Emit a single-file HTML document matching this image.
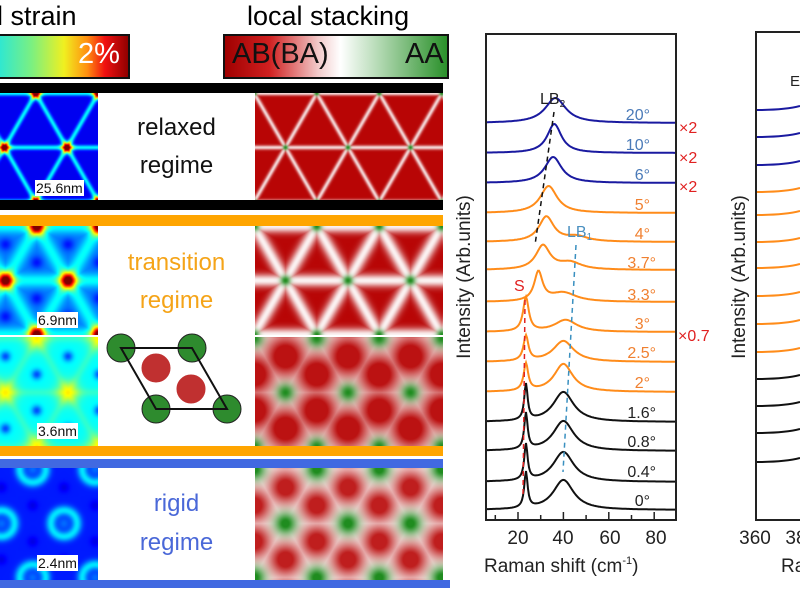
<!DOCTYPE html>
<html><head><meta charset="utf-8"><style>
html,body{margin:0;padding:0;background:#fff;}
#w{position:relative;width:800px;height:600px;overflow:hidden;font-family:"Liberation Sans",sans-serif;}
canvas{position:absolute;}
.t{position:absolute;white-space:nowrap;}
.bar{position:absolute;}
.sc{position:absolute;background:#fff;font-size:14px;line-height:16px;padding:0 1px;color:#111;}
</style></head><body><div id="w">
<div class="t" style="left:-3px;top:1px;font-size:27px;">l strain</div>
<div class="t" style="left:247px;top:1px;font-size:27px;">local stacking</div>
<div class="bar" style="left:-2px;top:34px;width:128px;height:41px;border:2px solid #111;background:linear-gradient(90deg,#30e8d0 0%,#7cf080 25%,#f0f020 50%,#ff9010 68%,#f01010 82%,#900000 100%);"></div>
<div class="t" style="left:78px;top:38px;font-size:29px;color:#fff;">2%</div>
<div class="bar" style="left:223px;top:34px;width:222px;height:41px;border:2px solid #111;background:linear-gradient(90deg,#a00000 0%,#d02020 20%,#f2caca 42%,#ffffff 52%,#b0d8b0 70%,#2a902a 100%);"></div>
<div class="t" style="left:232px;top:38px;font-size:29px;color:#111;">AB(BA)</div>
<div class="t" style="left:405px;top:38px;font-size:29px;color:#111;">AA</div>

<div class="bar" style="left:0;top:83px;width:443px;height:10px;background:#000;"></div>
<div class="bar" style="left:0;top:200px;width:443px;height:10px;background:#000;"></div>
<div class="bar" style="left:0;top:215px;width:443px;height:11px;background:#ffa500;"></div>
<div class="bar" style="left:0;top:446px;width:443px;height:10px;background:#ffa500;"></div>
<div class="bar" style="left:0;top:459px;width:443px;height:9px;background:#4169e1;"></div>
<div class="bar" style="left:0;top:580px;width:450px;height:8px;background:#4169e1;"></div>

<canvas id="s1" width="98" height="107" style="left:0;top:93px"></canvas>
<canvas id="k1" width="188" height="107" style="left:255px;top:93px"></canvas>
<canvas id="s2" width="98" height="110" style="left:0;top:226px"></canvas>
<canvas id="k2" width="188" height="110" style="left:255px;top:226px"></canvas>
<canvas id="s3" width="98" height="109" style="left:0;top:337px"></canvas>
<canvas id="k3" width="188" height="109" style="left:255px;top:337px"></canvas>
<canvas id="s4" width="98" height="112" style="left:0;top:468px"></canvas>
<canvas id="k4" width="188" height="112" style="left:255px;top:468px"></canvas>
<div class="bar" style="left:0;top:335px;width:443px;height:2px;background:#fff;"></div>

<div class="sc" style="left:35px;top:180px;">25.6nm</div>
<div class="sc" style="left:37px;top:312px;">6.9nm</div>
<div class="sc" style="left:37px;top:423px;">3.6nm</div>
<div class="sc" style="left:37px;top:555px;">2.4nm</div>

<div class="t" style="left:98px;top:114px;width:157px;text-align:center;font-size:24px;color:#111;">relaxed</div>
<div class="t" style="left:98px;top:152px;width:157px;text-align:center;font-size:24px;color:#111;">regime</div>
<div class="t" style="left:98px;top:249px;width:157px;text-align:center;font-size:24px;color:#f5a418;">transition</div>
<div class="t" style="left:98px;top:287px;width:157px;text-align:center;font-size:24px;color:#f5a418;">regime</div>
<div class="t" style="left:98px;top:490px;width:157px;text-align:center;font-size:24px;color:#4a68d8;">rigid</div>
<div class="t" style="left:98px;top:529px;width:157px;text-align:center;font-size:24px;color:#4a68d8;">regime</div>

<svg style="position:absolute;left:0;top:0" width="800" height="600">
 <g stroke="#222" stroke-width="1">
  <circle cx="121" cy="348" r="14" fill="#2e8b2e"/>
  <circle cx="192" cy="348" r="14" fill="#2e8b2e"/>
  <circle cx="156" cy="409" r="14" fill="#2e8b2e"/>
  <circle cx="227" cy="409" r="14" fill="#2e8b2e"/>
  <circle cx="156" cy="368" r="14" fill="#c03030" stroke="#c03030"/>
  <circle cx="191" cy="389" r="14" fill="#c03030" stroke="#c03030"/>
 </g>
 <polygon points="121,348 192,348 227,409 156,409" fill="none" stroke="#111" stroke-width="2"/>

 <rect x="486" y="34" width="190" height="486" fill="none" stroke="#222" stroke-width="2"/>
 <g id="spec"></g>
 <g stroke="#222" stroke-width="1.5" id="ticks"></g>
 <line x1="554" y1="112" x2="535" y2="245" stroke="#111" stroke-width="1.5" stroke-dasharray="5,4"/>
 <line x1="576" y1="245" x2="563" y2="472" stroke="#3a90c0" stroke-width="1.5" stroke-dasharray="5,4"/>
 <line x1="525" y1="300" x2="523" y2="498" stroke="#e02020" stroke-width="1.5" stroke-dasharray="5,4"/>
 <g font-family="Liberation Sans,sans-serif" font-size="16">
  <text x="540" y="104" fill="#222">LB<tspan font-size="10" dy="3">2</tspan></text>
  <text x="567" y="237" fill="#4a90c0">LB<tspan font-size="10" dy="3">1</tspan></text>
  <text x="514" y="291" fill="#e02020">S</text>
  <g text-anchor="end">
   <text x="650" y="120" fill="#4a7ab8">20°</text>
   <text x="650" y="150" fill="#4a7ab8">10°</text>
   <text x="650" y="180" fill="#4a7ab8">6°</text>
   <text x="650" y="210" fill="#f08030">5°</text>
   <text x="650" y="239" fill="#f08030">4°</text>
   <text x="656" y="268" fill="#f08030">3.7°</text>
   <text x="656" y="300" fill="#f08030">3.3°</text>
   <text x="650" y="329" fill="#f08030">3°</text>
   <text x="656" y="358" fill="#f08030">2.5°</text>
   <text x="650" y="388" fill="#f08030">2°</text>
   <text x="656" y="418" fill="#222">1.6°</text>
   <text x="656" y="447" fill="#222">0.8°</text>
   <text x="656" y="477" fill="#222">0.4°</text>
   <text x="650" y="506" fill="#222">0°</text>
  </g>
  <text x="679" y="133" fill="#e02020">×2</text>
  <text x="679" y="163" fill="#e02020">×2</text>
  <text x="679" y="192" fill="#e02020">×2</text>
  <text x="678" y="341" fill="#e02020">×0.7</text>
  <g font-size="19" fill="#222" text-anchor="middle">
   <text x="518" y="544">20</text><text x="563" y="544">40</text><text x="610" y="544">60</text><text x="656" y="544">80</text>
   <text x="755" y="544">360</text><text x="796" y="544">38</text>
  </g>
  <text x="484" y="572" font-size="19" fill="#222">Raman shift (cm<tspan font-size="11" dy="-8">-1</tspan><tspan dy="8">)</tspan></text>
  <text x="781" y="572" font-size="19" fill="#222">Ram</text>
  <text transform="translate(470,277) rotate(-90)" text-anchor="middle" font-size="19" fill="#222">Intensity (Arb.units)</text>
  <text transform="translate(745,277) rotate(-90)" text-anchor="middle" font-size="19" fill="#222">Intensity (Arb.units)</text>
  <text x="790" y="86" font-size="15" fill="#222">E</text>
 </g>
 <rect x="756" y="32" width="60" height="488" fill="none" stroke="#222" stroke-width="2"/>
 <g id="rl"></g>
</svg>
</div>
<script>
(function(){
var NS="http://www.w3.org/2000/svg";
var A=62.5,HH=A*Math.sqrt(3)/2;
function near(x,y,x0,y0){
 var jr=Math.round((y-y0)/HH),best=1e9;
 for(var j=jr-1;j<=jr+1;j++){var off=(((j%2)+2)%2)?A/2:0;
  var ir=Math.round((x-x0-off)/A);
  for(var i=ir-1;i<=ir+1;i++){var dx=x-(x0+off+i*A),dy=y-(y0+j*HH);var d=Math.sqrt(dx*dx+dy*dy);if(d<best)best=d;}}
 return best;
}
function lat(x,y,x0,y0){
 var h=HH,best=near(x,y,x0,y0);
 var px=x-x0,py=y-y0,dE=1e9;
 var ns=[[0,1],[-Math.sin(Math.PI/3),Math.cos(Math.PI/3)],[Math.sin(Math.PI/3),Math.cos(Math.PI/3)]];
 for(var k=0;k<3;k++){var p=px*ns[k][0]+py*ns[k][1];var m=((p%h)+h)%h;var dd=Math.min(m,h-m);if(dd<dE)dE=dd;}
 var dc=Math.min(near(x,y,x0+A/2,y0+h/3),near(x,y,x0+A,y0+2*h/3));
 return [best,dE,h,dc];
}
function cl(v){return v<0?0:v>1?1:v;}
function jet(v){v=cl(v);return [cl(1.5-Math.abs(4*v-3)),cl(1.5-Math.abs(4*v-2)),cl(1.5-Math.abs(4*v-1))];}
function draw(id,x0,y0,fn,ox,oy){
 var c=document.getElementById(id),g=c.getContext("2d"),W=c.width,H=c.height,im=g.createImageData(W,H);
 for(var y=0;y<H;y++)for(var x=0;x<W;x++){var L=lat(x+ox,y+oy,x0,y0);var col=fn(L[0],L[1],L[2],L[3]);
  var o=(y*W+x)*4;im.data[o]=col[0]*255;im.data[o+1]=col[1]*255;im.data[o+2]=col[2]*255;im.data[o+3]=255;}
 g.putImageData(im,0,0);
}
function E(x){return Math.exp(-x*x);}
function stack(r,gr){var R=[0.72,0.02,0.02],G=[0.12,0.55,0.12];
 var c=[1+(R[0]-1)*r,1+(R[1]-1)*r,1+(R[2]-1)*r];
 return [c[0]+(G[0]-c[0])*gr,c[1]+(G[1]-c[1])*gr,c[2]+(G[2]-c[2])*gr];}
draw("s1",4,147,function(d,e,h,c){return jet(0.11+0.26*E(e/2.5)+0.8*E(d/5));},0,93);
draw("s2",5,280,function(d,e,h,c){return jet(0.24+0.14*E(e/7)-0.1*E(c/6)+0.75*E(d/8));},0,226);
draw("s3",5,392,function(d,e,h,c){return jet(0.38+0.22*E(d/11)-0.18*E(c/5)+0.04*E(e/4));},0,337);
draw("s4",1,523,function(d,e,h,c){return jet(0.15+0.2*E((d-13)/5)+0.08*E(d/6)-0.05*E(c/5));},0,468);
draw("k1",285,147,function(d,e,h,c){return stack(1-0.85*E(e/2.2),E(d/2.5));},255,93);
draw("k2",285,280,function(d,e,h,c){return stack(1-0.95*E(e/6.5),E(d/5));},255,226);
draw("k3",285,392,function(d,e,h,c){return stack(0.95*cl(1.3*E(c/21)),E(d/9));},255,337);
draw("k4",285,523,function(d,e,h,c){return stack(0.9*cl(1.2*E(c/17)),cl(1.1*E(d/11)));},255,468);
var specs=[
[123,"#1a1aa0",[[36.5,25,5.5]]],
[153,"#1a1aa0",[[36,29,3.8]]],
[183,"#1a1aa0",[[35.5,26,4.5]]],
[213,"#ff8c1a",[[33.5,27,4.5]]],
[242,"#ff8c1a",[[32.5,25,4],[46,5,6]]],
[270,"#ff8c1a",[[31,24,3.8],[43,7,6]]],
[302,"#ff8c1a",[[29,29,2.2],[40,9,7]]],
[332,"#ff8c1a",[[23.5,34,1.5],[41,12,6]]],
[362,"#ff8c1a",[[23.5,25,1.3],[40,21,5.5]]],
[392,"#ff8c1a",[[23.5,27,1.2],[40,28,5]]],
[422,"#111",[[23.5,36,0.9],[40,30,5.5]]],
[451,"#111",[[23.5,36,0.9],[40,30,5.5]]],
[482,"#111",[[23.5,36,0.9],[40,30,5.5]]],
[510,"#111",[[23.5,36,0.9],[40,30,5.5]]]];
var gsp=document.getElementById("spec");
specs.forEach(function(s){var d="";for(var x=487;x<=675;x++){var v=20+(x-518)/2.27,y=s[0];
 s[2].forEach(function(p){var u=(v-p[0])/p[2];y-=p[1]/(1+u*u);});
 d+=(x==487?"M":"L")+x+","+y.toFixed(1);}
 var p=document.createElementNS(NS,"path");p.setAttribute("d",d);p.setAttribute("fill","none");p.setAttribute("stroke",s[1]);p.setAttribute("stroke-width","2");gsp.appendChild(p);});
var tk=document.getElementById("ticks");
for(var v=10;v<=85;v+=10){var x=518+(v-20)*2.27;var l=document.createElementNS(NS,"line");l.setAttribute("x1",x);l.setAttribute("x2",x);l.setAttribute("y1",520);l.setAttribute("y2",v%20==0?512:515);tk.appendChild(l);}
var rl=document.getElementById("rl");
[[110,"#1a1aa0"],[137,"#1a1aa0"],[165,"#1a1aa0"],[192,"#ff8c1a"],[215,"#ff8c1a"],[242,"#ff8c1a"],[268,"#ff8c1a"],[296,"#ff8c1a"],[324,"#ff8c1a"],[352,"#ff8c1a"],[379,"#111"],[406,"#111"],[433,"#111"],[462,"#111"]].forEach(function(s){
 var p=document.createElementNS(NS,"path");p.setAttribute("d","M757,"+s[0]+" Q785,"+s[0]+" 800,"+(s[0]-4));p.setAttribute("fill","none");p.setAttribute("stroke",s[1]);p.setAttribute("stroke-width","2");rl.appendChild(p);});
})();
</script>
</body></html>
